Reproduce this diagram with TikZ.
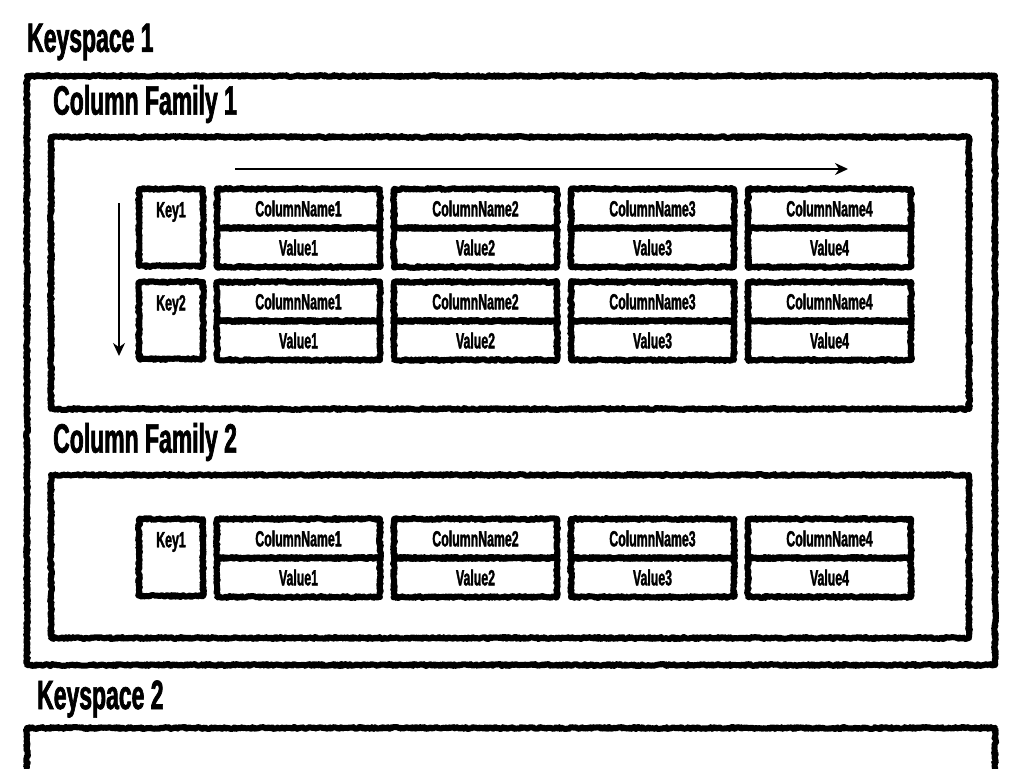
\documentclass[tikz,border=0pt]{standalone}
\usepackage{fontspec}
\newfontfamily\cond[FakeStretch=0.56,FakeBold=1.6]{Liberation Sans}
\usetikzlibrary{arrows.meta,decorations.pathmorphing}
\begin{document}
\begin{tikzpicture}[x=1pt,y=-1pt,
  sketch/.style={draw=black,line width=6pt,line join=round,decorate,
    decoration={random steps,segment length=1.2pt,amplitude=1pt}},
  box/.style={sketch,rectangle,inner sep=0pt,outer sep=0pt},
  cell/.style={box,minimum width=163pt,minimum height=39pt,font=\cond\bfseries\fontsize{22}{22}\selectfont},
  keybox/.style={box,minimum width=64pt,minimum height=77pt},
  keytxt/.style={font=\cond\bfseries\fontsize{22}{22}\selectfont,inner sep=0pt},
  title/.style={font=\cond\bfseries\fontsize{41}{41}\selectfont,inner sep=0pt,anchor=west},
  flow/.style={line width=2.6pt,-{Stealth[length=13pt,width=12pt]}}]
\useasboundingbox[fill=white] (0,0) rectangle (1024,768);

% Keyspace 1
\node[title] (ks1t) at (27,42) {Keyspace 1};
\node[box,anchor=north west,minimum width=968pt,minimum height=589pt] (ks1) at (27,76) {};

% Column Family 1
\node[title] (cf1t) at (53,104) {Column Family 1};
\node[box,anchor=north west,minimum width=918pt,minimum height=272pt] (cf1) at (51,137) {};

\coordinate (h1) at (235,169);
\coordinate (h2) at (848,169);
\draw[flow] (h1) -- (h2);
\coordinate (v1) at (119,203);
\coordinate (v2) at (119,356);
\draw[flow] (v1) -- (v2);

% rows
\foreach \r/\k/\y in {a/1/189, b/2/282, c/1/519}{
  \node[keybox,anchor=north west] (key\r) at (139,\y) {};
  \node[keytxt] (keyt\r) at ([yshift=-23pt]key\r.north) {Key\k};
  \foreach \i/\x in {1/217, 2/394, 3/571, 4/748}{
    \node[cell,anchor=north west] (cn\r\i) at (\x,\y) {ColumnName\i};
    \node[cell,anchor=north] (val\r\i) at (cn\r\i.south) {Value\i};
  }
}

% Column Family 2
\node[title] (cf2t) at (53,442) {Column Family 2};
\node[box,anchor=north west,minimum width=918pt,minimum height=163pt] (cf2) at (51,475) {};

% Keyspace 2
\node[title] (ks2t) at (37,699) {Keyspace 2};
\coordinate (k2a) at (27,790);
\coordinate (k2b) at (27,728);
\coordinate (k2c) at (995,728);
\coordinate (k2d) at (995,790);
\draw[sketch] (k2a) -- (k2b) -- (k2c) -- (k2d);
\end{tikzpicture}
\end{document}
